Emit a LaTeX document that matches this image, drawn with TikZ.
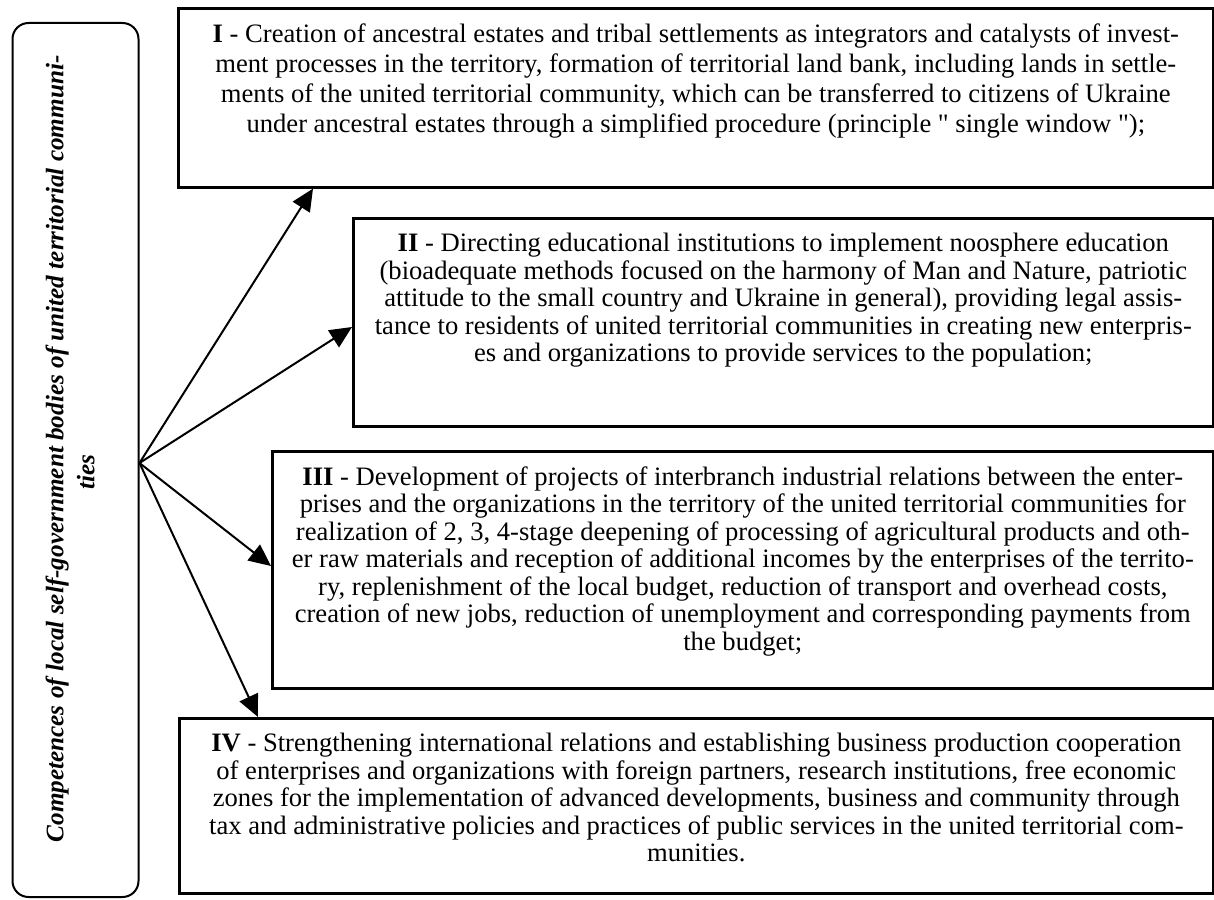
\documentclass[tikz,border=0pt]{standalone}
\usepackage{fontspec}
\setmainfont{Liberation Serif}
\usetikzlibrary{arrows.meta,positioning,calc}

\begin{document}
\begin{tikzpicture}[
  x=0.5pt, y=-0.5pt,
  font=\fontsize{13.3}{13.75}\selectfont,
  frame/.style={
    draw=black,
    line width=1.3pt,
    inner sep=0pt,
    anchor=north west
  },
  compframe/.style={
    draw=black,
    line width=1pt,
    rounded corners=8pt,
    inner sep=0pt
  },
  txt/.style={align=center, inner sep=0pt},
  arrow/.style={-{Triangle[length=11pt,width=10pt]}, line width=1pt, draw=black}
]
\useasboundingbox (0,0) rectangle (1214,899);

\node[compframe, minimum width=63pt, minimum height=437pt] (comp) at (75.5,460) {};
\node[txt, rotate=90, font=\fontsize{12.6}{15.5}\selectfont\bfseries\itshape] (comptxt) at (70,449)
  {Competences of local self-government bodies of united territorial communi-\\ties\hspace*{23pt}};

\node[frame, minimum width=517.5pt, minimum height=89.5pt] (b1) at (177,7) {};
\node[txt, below=8pt of b1.north, font=\fontsize{13.3}{15}\selectfont] (t1)
  {\textbf{I} - Creation of ancestral estates and tribal settlements as integrators and catalysts of invest-\\
   ment processes in the territory, formation of territorial land bank, including lands in settle-\\
   ments of the united territorial community, which can be transferred to citizens of Ukraine\\
   under ancestral estates through a simplified procedure (principle \textquotedbl{} single window \textquotedbl);};

\node[frame, minimum width=430pt, minimum height=104pt] (b2) at (352,217) {};
\node[txt, below=8pt of b2.north] (t2)
  {\textbf{II} - Directing educational institutions to implement noosphere education\\
   (bioadequate methods focused on the harmony of Man and Nature, patriotic\\
   attitude to the small country and Ukraine in general), providing legal assis-\\
   tance to residents of united territorial communities in creating new enterpris-\\
   es and organizations to provide services to the population;};

\node[frame, minimum width=470.5pt, minimum height=118.5pt] (b3) at (271,450) {};
\node[txt, below=8pt of b3.north] (t3)
  {\textbf{III} - Development of projects of interbranch industrial relations between the enter-\\
   prises and the organizations in the territory of the united territorial communities for\\
   realization of 2, 3, 4-stage deepening of processing of agricultural products and oth-\\
   er raw materials and reception of additional incomes by the enterprises of the territo-\\
   ry, replenishment of the local budget, reduction of transport and overhead costs,\\
   creation of new jobs, reduction of unemployment and corresponding payments from\\
   the budget;};

\node[frame, minimum width=517pt, minimum height=87.5pt] (b4) at (178,717) {};
\node[txt, below=8pt of b4.north] (t4)
  {\textbf{IV} - Strengthening international relations and establishing business production cooperation\\
   of enterprises and organizations with foreign partners, research institutions, free economic\\
   zones for the implementation of advanced developments, business and community through\\
   tax and administrative policies and practices of public services in the united territorial com-\\
   munities.};

\draw[arrow] ([yshift=-1.5pt]comp.east) -- ($(b1.south west)+(136,0)$);
\draw[arrow] ([yshift=-1.5pt]comp.east) -- ($(b2.north west)+(0,110)$);
\draw[arrow] ([yshift=-1.5pt]comp.east) -- ($(b3.north west)+(0,116)$);
\draw[arrow] ([yshift=-1.5pt]comp.east) -- ($(b4.north west)+(80,0)$);

\end{tikzpicture}
\end{document}
